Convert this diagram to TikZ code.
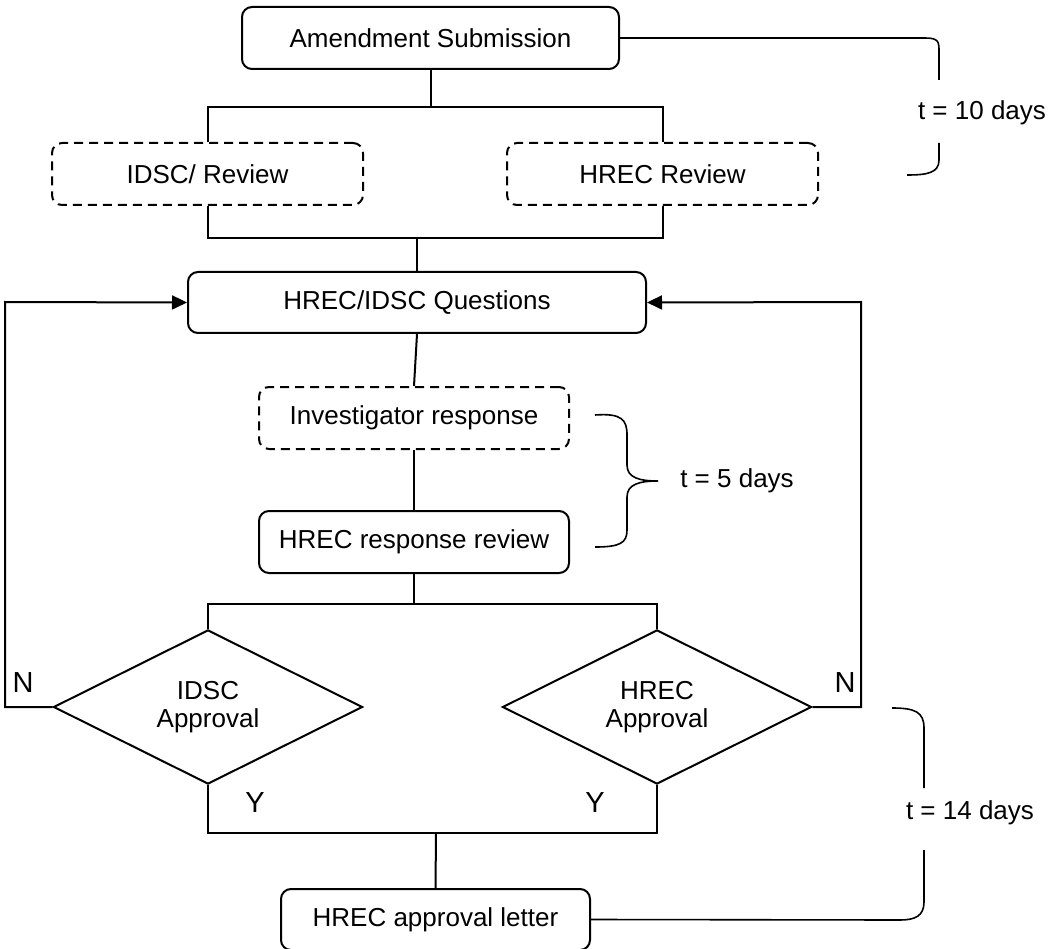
\documentclass[tikz,border=0pt]{standalone}
\usepackage{fontspec}
\setmainfont{Liberation Sans}
\usetikzlibrary{shapes.geometric,arrows.meta}
\begin{document}
\begin{tikzpicture}[x=1pt,y=-1pt,line width=2pt,
  every node/.style={font=\fontsize{26}{28}\selectfont},
  box/.style={draw, rounded corners=10pt, minimum height=62pt, inner sep=0pt, align=center},
  dbox/.style={box, dash pattern=on 9pt off 6pt},
  dia/.style={draw, diamond, minimum width=309pt, minimum height=144pt, inner sep=0pt, align=center},
  lbl/.style={inner sep=0pt},
  big/.style={inner sep=0pt, font=\fontsize{29}{30}\selectfont},
  arr/.style={-{Triangle[length=15pt,width=14pt]}}]
\useasboundingbox (0,0) rectangle (1049,949);
% nodes
\node[box, minimum width=377pt] (amend) at (430.5,38) {Amendment Submission};
\node[dbox, minimum width=311pt] (idsc) at (207.5,174) {IDSC/ Review};
\node[dbox, minimum width=311pt] (hrecr) at (662.5,174) {HREC Review};
\node[box, minimum width=458pt, minimum height=61pt] (quest) at (417,302.5) {HREC/IDSC Questions};
\node[dbox, minimum width=310pt] (inv) at (414,418) {Investigator response};
\node[box, minimum width=310pt] (resp) at (414,542) {HREC response review};
\node[dia] (ida) at (208,707) {IDSC\\Approval};
\node[dia] (hra) at (657,707) {HREC\\Approval};
\node[box, minimum width=309pt, minimum height=61pt] (letter) at (435.5,919.5) {HREC approval letter};
% labels
\node[big] (n1) at (23,683) {N};
\node[big] (n2) at (845,683) {N};
\node[big] (y1) at (255,803) {Y};
\node[big] (y2) at (595,803) {Y};
\node[lbl] (t10) at (982,113) {t = 10 days};
\node[lbl] (t5) at (737,481) {t = 5 days};
\node[lbl] (t14) at (970,813) {t = 14 days};
% coordinates
\coordinate (s1) at (431,107);
\coordinate (m1) at (417,238);
\coordinate (s2) at (414,604);
\coordinate (m2) at (436,833);
% connectors top
\draw (amend.south -| s1) -- (s1);
\draw (idsc.north) -- (idsc.north |- s1) -- (hrecr.north |- s1) -- (hrecr.north);
\draw (idsc.south) -- (idsc.south |- m1) -- (hrecr.south |- m1) -- (hrecr.south);
\draw (m1) -- (quest.north);
\draw (quest.south) -- (inv.north);
\draw (inv.south) -- (resp.north);
\draw (resp.south) -- (s2);
\draw (ida.north) -- (ida.north |- s2) -- (hra.north |- s2) -- (hra.north);
\draw (ida.south) -- (ida.south |- m2) -- (hra.south |- m2) -- (hra.south);
\draw (m2) -- (letter.north);
% feedback loops
\draw[arr] (ida.west) -- (5,707) -- (5,302) -- (quest.west);
\draw[arr] (hra.east) -- (861,707) -- (861,302) -- (quest.east);
% braces
\draw[line width=1.6pt] (amend.east) -- (925,38) .. controls (939,38) and (939,42) .. (939,52) -- (939,80);
\draw[line width=1.6pt] (939,143) -- (939,160) .. controls (939,173) and (927,175) .. (907,175);
\draw[line width=1.6pt] (595,415) .. controls (622,413) and (627,420) .. (627,435) -- (627,465)
   .. controls (627,478) and (640,481) .. (658,481)
   .. controls (640,481) and (627,484) .. (627,497) -- (627,530)
   .. controls (627,543) and (620,547) .. (595,547);
\draw[line width=1.6pt] (892,708) .. controls (915,708) and (924,712) .. (924,728) -- (924,788);
\draw[line width=1.6pt] (924,850) -- (924,902) .. controls (924,916) and (915,920) .. (900,920) -- (letter.east);
\end{tikzpicture}
\end{document}
